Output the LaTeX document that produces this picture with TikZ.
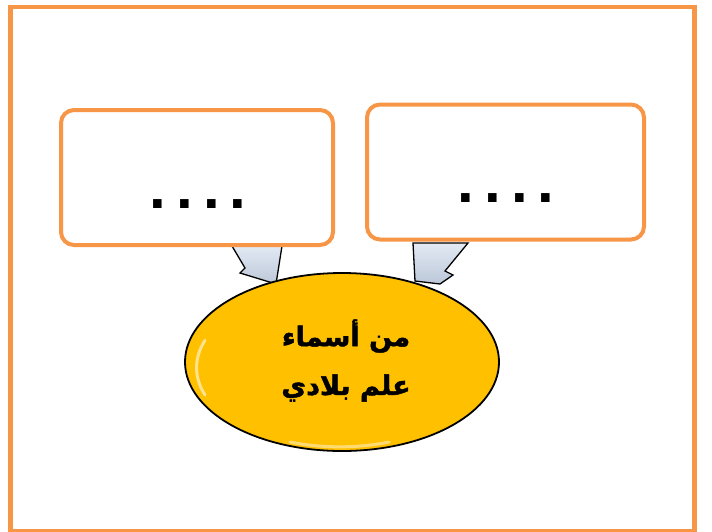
\documentclass[tikz,border=0pt]{standalone}
\usepackage{fontspec}
\setmainfont{Liberation Sans}
\newfontfamily\arabicfont[Script=Arabic,BoldFont={DejaVu Sans Bold},BoldFeatures={FakeBold=1.6}]{DejaVu Sans}
\TeXXeTstate=1
\usetikzlibrary{shapes.geometric}
\definecolor{frameor}{RGB}{247,150,70}
\definecolor{gold}{RGB}{255,192,0}
\definecolor{arrowblue}{RGB}{198,212,232}
\newcommand{\fourdots}{.\hspace{10pt}.\hspace{10pt}.\hspace{10pt}.}
\begin{document}
\begin{tikzpicture}[x=1pt,y=-1pt,
  box/.style={draw=frameor,line width=4pt,rounded corners=13pt,fill=white},
  dots/.style={font=\fontsize{60}{60}\selectfont\bfseries,anchor=base,inner sep=0pt},
  blockarrow/.style={draw=black,line width=1.3pt,line join=miter,top color=arrowblue!50!white,bottom color=arrowblue!85!gray},
  oval/.style={ellipse,draw=black,line width=1.8pt,fill=gold,minimum width=314pt,minimum height=178pt},
  label/.style={font=\arabicfont\bfseries\fontsize{27}{27}\selectfont}]
\useasboundingbox (0,0) rectangle (712,531);
\begin{scope}
\clip (0,0) rectangle (712,531);
\draw[frameor,line width=4.5pt] (10.5,7) rectangle (694.5,531);
\end{scope}
% arrows
\draw[blockarrow] (232,246) -- (245,268) -- (240,273) -- (276,284) -- (282,246) -- cycle;
\draw[blockarrow] (413,243) -- (415,281) -- (440,284) -- (453,275) -- (445,271) -- (468,243) -- cycle;
% boxes
\node[box,minimum width=272pt,minimum height=135pt] (lbox) at (197,177.5) {};
\node[box,minimum width=277pt,minimum height=135pt] (rbox) at (505.5,172) {};
\node[dots] (ldots) at (198,208) {\fourdots};
\node[dots] (rdots) at (506,202) {\fourdots};
% ellipse
\node[oval] (center) at (342,362) {};
\draw[white,opacity=0.55,line width=3pt,line cap=round] (205,395) arc[start angle=200,end angle=160,x radius=140pt,y radius=80pt];
\draw[white,opacity=0.45,line width=3pt,line cap=round] (290,442) arc[start angle=250,end angle=290,x radius=145pt,y radius=80pt];
\node[label] (line1) at (346,336) {\beginR من أسماء\endR};
\node[label] (line2) at (346,388) {\beginR علم بلادي\endR};
\end{tikzpicture}
\end{document}
